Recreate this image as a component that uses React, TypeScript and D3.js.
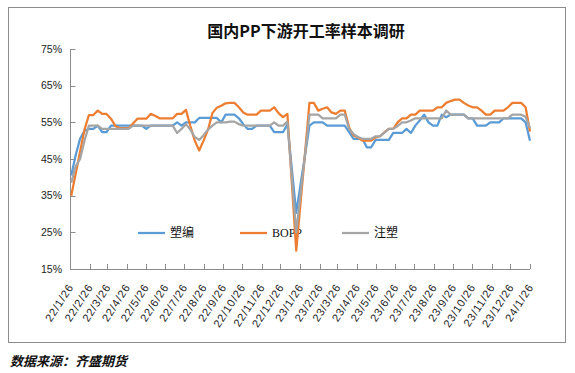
import * as d3 from "d3";
import { useEffect, useRef } from "react";

// weekly survey, first point on this Friday
const firstWeek = "2022-01-28";

const seriesNames = ["塑编", "BOPP", "注塑"];
const seriesColors = ["#5B9BD5", "#ED7D31", "#A5A5A5"];

// 塑编
const suBian = [
  40.5, 46, 50.5, 52.7, 53.2, 53.2, 54.1, 52.3, 52.3, 54.1,
  54.1, 54.1, 54.1, 54.1, 54.1, 54.1, 54.1, 53.2, 54.1, 54.1,
  54.1, 54.1, 54.1, 54.1, 55, 54.1, 55, 55, 55, 56.2,
  56.2, 56.2, 56.2, 56.2, 55, 57.1, 57.1, 57.1, 56.1, 54.5,
  53.2, 53.2, 54.1, 54.1, 54.1, 54.1, 52.3, 52.3, 52.3, 54.5,
  42.4, 30.3, 38.2, 46, 54.1, 55, 55, 55, 54.1, 54.1,
  54.1, 54.1, 54.1, 52.3, 50.5, 50.5, 50.5, 48.2, 48.2, 50.2,
  50.2, 50.2, 50.2, 52.1, 52.1, 52.1, 53.2, 52.1, 54.1, 55.5,
  57.1, 55, 54.1, 54.1, 57.1, 56.4, 57.1, 57.1, 57.1, 57.1,
  56.1, 56.1, 54.1, 54.1, 54.1, 55, 55, 55, 56.1, 56.1,
  56.1, 56.1, 56.1, 55, 50,
];

// BOPP
const bopp = [
  35, 41, 47, 53, 57, 57, 58.2, 57.3, 57.3, 56,
  54, 53.4, 53.4, 53.4, 54.7, 56, 56, 56, 57.3, 56.8,
  56.1, 56.1, 56.1, 56.1, 57.3, 57.3, 58.4, 54, 50, 47.3,
  50, 53, 57.5, 59, 59.5, 60.2, 60.3, 60.3, 59.1, 57.7,
  57.1, 57.1, 57.1, 58.2, 58.2, 58.2, 59.1, 57.5, 56.4, 57.3,
  38.6, 20, 33.3, 46.6, 60.3, 60.3, 58.2, 58.7, 59.1, 57.7,
  57.3, 58.2, 58.2, 53.6, 51.4, 50.9, 50, 50, 50, 50.9,
  51.2, 52.3, 53.2, 53.2, 55, 56.1, 56.1, 57.1, 57.1, 58.2,
  58.2, 58.2, 58.2, 59.1, 59.1, 60.3, 60.8, 61.2, 61.2, 60.3,
  59.6, 59.1, 59.1, 58.2, 57.1, 57.1, 58.2, 58.2, 58.2, 59.1,
  60.3, 60.3, 60.3, 59.1, 52.5,
];

// 注塑
const zhuSu = [
  38.5, 43, 45, 50, 54.1, 54.1, 54.1, 53.2, 53.2, 53.2,
  53.2, 53.2, 53.2, 53.2, 54.1, 54.1, 54.1, 54.1, 54.1, 54.1,
  54.1, 54.1, 54.1, 54.1, 52.1, 53.2, 54.5, 53, 51, 50.2,
  51.5, 53, 54.1, 55, 55, 55, 55.2, 55.2, 54.5, 54.1,
  54.1, 54.1, 54.1, 54.1, 54.1, 54.1, 55, 54.1, 54.1, 55.2,
  40, 25, 35.6, 46.2, 57.1, 57.1, 57.1, 56.1, 56.1, 56.1,
  56.1, 57.1, 57.1, 53.2, 51.8, 51, 50.5, 50.5, 50.5, 51.2,
  51.2, 52.2, 53.2, 53.2, 54, 55, 55, 55.5, 56.1, 56.1,
  56.1, 56.1, 56.1, 56.1, 56.1, 58.2, 57.1, 57.1, 57.1, 57.1,
  56.1, 56.1, 56.1, 56.1, 56.1, 56.1, 56.1, 56.1, 56.1, 56.1,
  57.1, 57.1, 57.1, 56.5, 53.5,
];

const yTicks = [15, 25, 35, 45, 55, 65, 75];

const xTickLabels = [
  "22/1/26", "22/2/26", "22/3/26", "22/4/26", "22/5/26", "22/6/26",
  "22/7/26", "22/8/26", "22/9/26", "22/10/26", "22/11/26", "22/12/26",
  "23/1/26", "23/2/26", "23/3/26", "23/4/26", "23/5/26", "23/6/26",
  "23/7/26", "23/8/26", "23/9/26", "23/10/26", "23/11/26", "23/12/26",
  "24/1/26",
];

const axisColor = "#8c8c8c";
const labelFont = "'Liberation Sans', Arial, sans-serif";

export default function App() {
  const ref = useRef<SVGSVGElement>(null);

  useEffect(() => {
    drawChart();
  }, []);

  function drawChart() {
    const svg = d3.select(ref.current);
    svg.selectAll("*").remove();

    const parseLabel = (s: string) => {
      const [yy, m, d] = s.split("/").map(Number);
      return new Date(2000 + yy, m - 1, d);
    };
    const tickDates = xTickLabels.map(parseLabel);
    const start = d3.timeParse("%Y-%m-%d")(firstWeek) as Date;
    const dates = bopp.map((_, i) => d3.timeDay.offset(start, i * 7));

    const x = d3.scaleTime()
      .domain([tickDates[0], tickDates[tickDates.length - 1]])
      .range([70, 530]);
    const y = d3.scaleLinear().domain([15, 75]).range([269, 49]);

    // outer frame
    svg.append("rect")
      .attr("x", 8.5)
      .attr("y", 7.5)
      .attr("width", 557)
      .attr("height", 335)
      .attr("fill", "white")
      .attr("stroke", axisColor)
      .attr("stroke-width", 1);

    svg.append("text")
      .attr("x", 306)
      .attr("y", 37)
      .attr("text-anchor", "middle")
      .style("font-family", "'Noto Sans CJK SC', sans-serif")
      .style("font-size", "16px")
      .style("font-weight", "700")
      .style("fill", "#111")
      .text("国内PP下游开工率样本调研");

    // y axis
    const yAxis = svg.append("g");
    yAxis.append("line")
      .attr("x1", 70.5).attr("x2", 70.5)
      .attr("y1", y(75)).attr("y2", y(15))
      .attr("stroke", axisColor);
    yTicks.forEach((t) => {
      yAxis.append("line")
        .attr("x1", 70.5).attr("x2", 75.5)
        .attr("y1", Math.round(y(t)) + 0.5).attr("y2", Math.round(y(t)) + 0.5)
        .attr("stroke", axisColor);
      yAxis.append("text")
        .attr("x", 62)
        .attr("y", y(t))
        .attr("dy", "0.35em")
        .attr("text-anchor", "end")
        .style("font-family", labelFont)
        .style("font-size", "10.5px")
        .style("fill", "#222")
        .text(`${t}%`);
    });

    // x axis
    const xAxis = svg.append("g");
    xAxis.append("line")
      .attr("x1", 70).attr("x2", 530)
      .attr("y1", 269.5).attr("y2", 269.5)
      .attr("stroke", axisColor);
    tickDates.forEach((d, i) => {
      const px = Math.round(x(d)) + 0.5;
      xAxis.append("line")
        .attr("x1", px).attr("x2", px)
        .attr("y1", 269).attr("y2", 264)
        .attr("stroke", axisColor);
      xAxis.append("text")
        .attr("transform", `translate(${x(d) + 4}, 287) rotate(-57)`)
        .attr("text-anchor", "end")
        .style("font-family", labelFont)
        .style("font-size", "11px")
        .style("letter-spacing", "0.8px")
        .style("fill", "#222")
        .text(xTickLabels[i]);
    });

    // legend
    const legendX = [138, 240, 342];
    const legend = svg.append("g");
    seriesNames.forEach((name, i) => {
      legend.append("line")
        .attr("x1", legendX[i]).attr("x2", legendX[i] + 27)
        .attr("y1", 233).attr("y2", 233)
        .attr("stroke", seriesColors[i])
        .attr("stroke-width", 2.25);
      legend.append("text")
        .attr("x", legendX[i] + 32)
        .attr("y", 233)
        .attr("dy", "0.36em")
        .style("font-family", "'Liberation Serif', 'Noto Sans CJK SC', serif")
        .style("font-size", "12px")
        .style("fill", "#111")
        .text(name);
    });

    // lines
    const line = d3.line<number>()
      .x((_, i) => x(dates[i]))
      .y((v) => y(v));

    [suBian, bopp, zhuSu].forEach((values, i) => {
      svg.append("path")
        .datum(values)
        .attr("d", line)
        .attr("fill", "none")
        .attr("stroke", seriesColors[i])
        .attr("stroke-width", 2.25)
        .attr("stroke-linejoin", "round");
    });

    svg.append("text")
      .attr("x", 10)
      .attr("y", 366)
      .style("font-family", "'Noto Sans CJK SC', sans-serif")
      .style("font-size", "13px")
      .style("font-weight", "700")
      .style("font-style", "italic")
      .style("fill", "#111")
      .text("数据来源：齐盛期货");
  }

  return (
    <div style={{ position: "absolute", left: 0, top: 0 }}>
      <svg ref={ref} width={575} height={373} style={{ display: "block" }} />
    </div>
  );
}
